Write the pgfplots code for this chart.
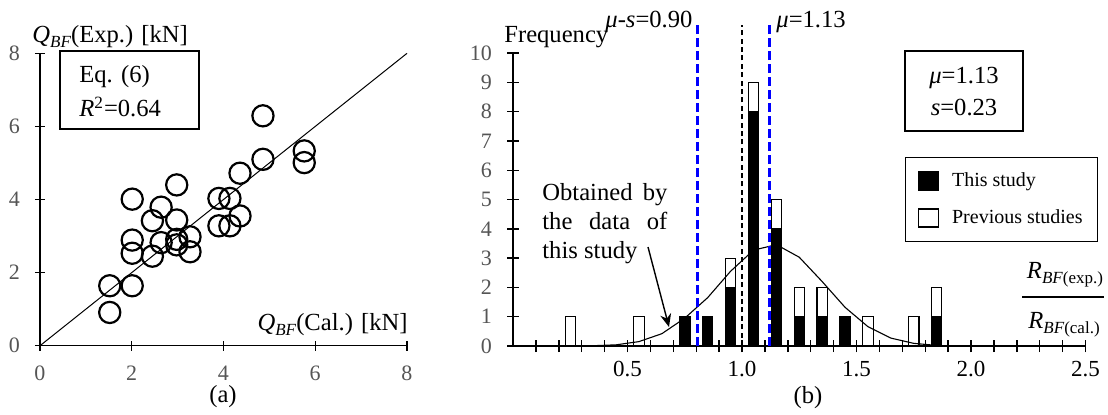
\documentclass[border=0pt]{standalone}
\usepackage{pgfplots}
\pgfplotsset{compat=1.18}
\usepackage{fontspec}
\setmainfont{Liberation Serif}
\usetikzlibrary{arrows.meta}
\definecolor{tickgray}{RGB}{85,85,85}
\definecolor{dblue}{RGB}{0,0,255}
\newcommand{\fs}[1]{\fontsize{#1}{#1}\selectfont}
\newcommand{\sub}[1]{\raisebox{-0.4ex}{\fs{8.5}#1}}
\begin{document}
\begin{tikzpicture}
\useasboundingbox (0,0) rectangle (554pt,207pt);
% ---------------- panel (a)
\begin{axis}[
  at={(20pt,34.15pt)}, anchor=south west,
  width=183.5pt, height=146.2pt, scale only axis,
  xmin=0,xmax=8,ymin=0,ymax=8,
  axis x line=bottom, axis y line=left,
  axis line style={-, line width=0.7pt},
  xtick={0,2,...,8}, ytick={0,2,...,8},
  tick align=center, major tick length=5pt,
  every tick/.style={line width=0.7pt, black},
  ticklabel style={font=\fs{11}, text=tickgray},
  /pgf/number format/assume math mode=true,
  clip=false,
  yticklabel style={xshift=-4pt},
  xticklabel style={yshift=-4pt},
]
\addplot[black, line width=0.5pt] coordinates {(0,0) (8,8)};
\addplot[only marks, mark=o, mark size=5.3pt, mark options={line width=1.1pt, black}] coordinates {
(1.52,0.91) (1.52,1.64) (2.01,1.64) (2.01,4.01) (2.01,2.89) (2.01,2.53)
(2.45,2.45) (2.45,3.42) (2.64,3.79) (2.64,2.82) (2.98,4.40) (2.98,3.44)
(2.98,2.91) (2.98,2.76) (3.27,2.98) (3.27,2.57) (3.90,4.03) (3.90,3.28)
(4.14,4.03) (4.14,3.28) (4.36,4.72) (4.36,3.55) (4.86,6.29) (4.86,5.10)
(5.76,5.33) (5.76,5.01)};
\end{axis}
% ---------------- panel (b): bars
\begin{axis}[
  at={(256.5pt,34pt)}, anchor=south west,
  width=286.25pt, height=146.5pt, scale only axis,
  xmin=0,xmax=2.5,ymin=0,ymax=10,
  axis x line=bottom, axis y line=left,
  axis line style={-, line width=0.75pt},
  xtick={0.5,1,...,2.5}, minor xtick={0.1,0.2,...,2.45}, ytick={0,1,...,10},
  tick align=center, major tick length=6pt, minor tick length=6pt,
  every tick/.style={line width=0.7pt, black},
  every minor tick/.style={line width=0.7pt, black},
  /pgf/number format/assume math mode=true,
  yticklabel style={font=\fs{11}, text=tickgray, xshift=-4pt},
  xticklabel style={font=\fs{11.5}, text=black, yshift=-1pt, /pgf/number format/.cd, fixed, fixed zerofill, precision=1},
  ybar stacked, bar width=0.045,
  clip=false,
  legend style={at={(0.6847,0.645)}, anchor=north west, draw=black, line width=0.7pt,
     font=\fs{10}, inner xsep=6pt, inner ysep=6pt, row sep=7pt,
     nodes={inner sep=1.5pt}},
  legend cell align=left,
]
\addplot[fill=black, draw=black, line width=0.6pt,
  legend image code/.code={\draw[fill=black,draw=black,line width=0.7pt] (0pt,-4.5pt) rectangle (10pt,4.5pt);}]
  coordinates {(0.25,0) (0.55,0) (0.75,1) (0.85,1) (0.95,2) (1.05,8) (1.15,4) (1.25,1) (1.35,1) (1.45,1) (1.55,0) (1.75,0) (1.85,1)};
\addlegendentry{\hspace{5pt}This study}
\addplot[fill=white, draw=black, line width=0.6pt,
  legend image code/.code={\draw[fill=white,draw=black,line width=0.7pt] (0pt,-4.5pt) rectangle (10pt,4.5pt);}]
  coordinates {(0.25,1) (0.55,1) (0.75,0) (0.85,0) (0.95,1) (1.05,1) (1.15,1) (1.25,1) (1.35,1) (1.45,0) (1.55,1) (1.75,1) (1.85,1)};
\addlegendentry{\hspace{5pt}Previous studies}
\end{axis}
% ---------------- panel (b): curve and reference lines
\begin{axis}[
  at={(256.5pt,34pt)}, anchor=south west,
  width=286.25pt, height=146.5pt, scale only axis,
  xmin=0,xmax=2.5,ymin=0,ymax=10, hide axis, clip=false,
]
\addplot[black, line width=0.55pt] coordinates {
(0.35,0.01) (0.45,0.04) (0.55,0.15) (0.65,0.42) (0.75,0.95) (0.85,1.65) (0.95,2.55)
(1.05,3.27) (1.15,3.46) (1.25,3.03) (1.35,2.20) (1.45,1.32) (1.55,0.66) (1.65,0.27)
(1.75,0.09) (1.85,0.02)};
\addplot[dblue, line width=1.25pt, dash pattern=on 4.5pt off 2pt] coordinates {(0.805,0) (0.805,10.95)};
\addplot[dblue, line width=1.25pt, dash pattern=on 4.5pt off 2pt] coordinates {(1.12,0) (1.12,10.95)};
\addplot[black, line width=0.7pt, dash pattern=on 2.5pt off 1.7pt] coordinates {(1.0,0) (1.0,10.95)};
\end{axis}
% ---------------- annotations (pixel coordinates, y downwards)
\begin{scope}[shift={(0,207pt)}, x=0.5pt, y=-0.5pt, every node/.style={inner sep=0pt, font=\fs{12.3}}]
% panel (a)
\node[anchor=west] at (32,37) {\textit{Q}\sub{\textit{BF}}(Exp.) [kN]};
\node[anchor=east] at (408,325) {\textit{Q}\sub{\textit{BF}}(Cal.) [kN]};
\draw[line width=0.7pt] (60,51) rectangle (199,129);
\node[anchor=west] at (79,77) {Eq. (6)};
\node[anchor=west] at (79,107) {\textit{R}\textsuperscript{2}=0.64};
\node at (223,397) {(a)};
% panel (b)
\node[anchor=west] at (504,37) {Frequency};
\node[anchor=west] at (605,22) {\textit{μ}-\textit{s}=0.90};
\node[anchor=west] at (776,22) {\textit{μ}=1.13};
\draw[line width=0.7pt] (905,51) rectangle (1023,131);
\node at (964,78) {\textit{μ}=1.13};
\node at (964,107) {\textit{s}=0.23};
\node[anchor=base west] at (542,200.7) {\makebox[62.5pt][s]{Obtained by}};
\node[anchor=base west] at (542,229.5) {\makebox[62.5pt][s]{the data of}};
\node[anchor=base west] at (542,258.3) {this study};
\draw[line width=0.7pt, -{Stealth[length=6.5pt,width=5.5pt]}] (648,247) -- (669,327);
\node at (1065,275) {\textit{R}\sub{\textit{BF}(exp.)}};
\draw[line width=0.7pt] (1022,297) -- (1104,297);
\node at (1064,325) {\textit{R}\sub{\textit{BF}(cal.)}};
\node at (808,398) {(b)};
\end{scope}
\end{tikzpicture}
\end{document}
